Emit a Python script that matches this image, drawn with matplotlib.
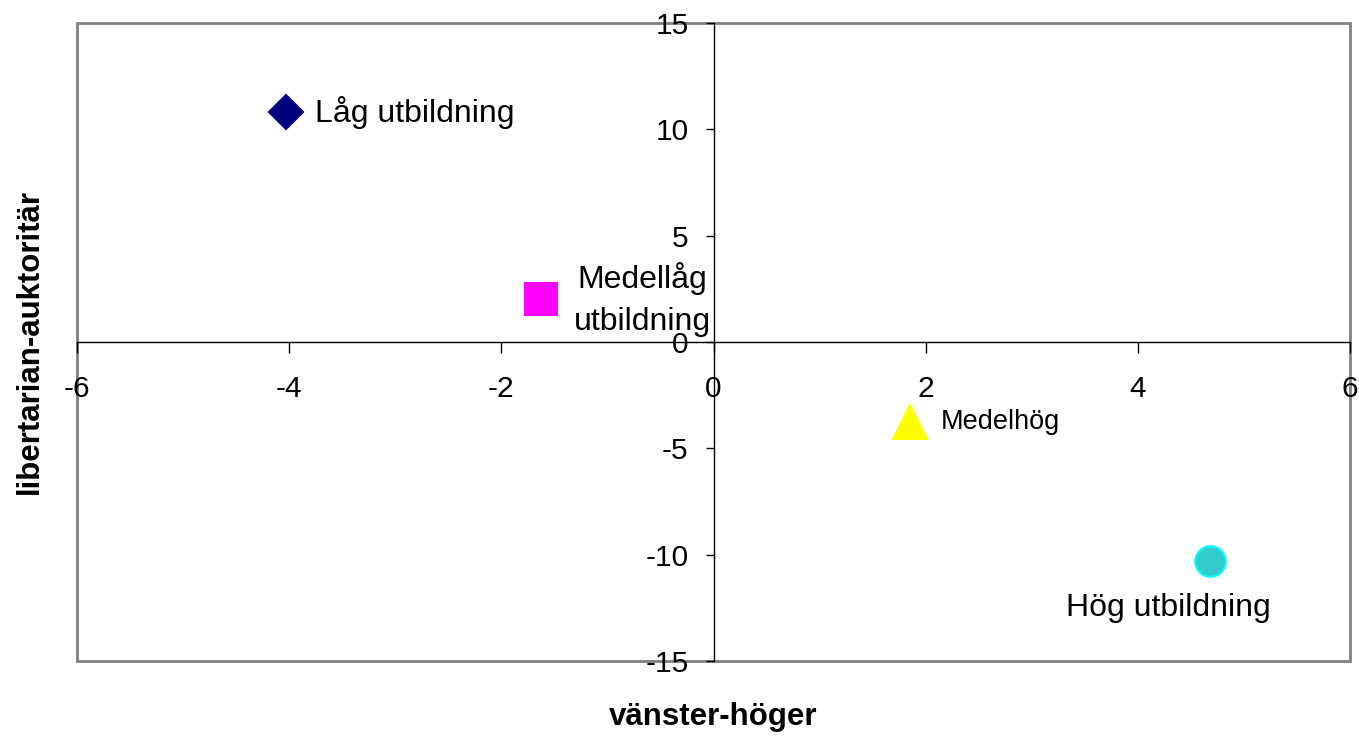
import matplotlib.pyplot as plt
import matplotlib.patches as patches

plt.rcParams['font.family'] = ['Liberation Sans', 'DejaVu Sans']
plt.rcParams['axes.unicode_minus'] = False

# positions on the two value scales
names = ['Låg utbildning', 'Medellåg\nutbildning', 'Medelhög', 'Hög utbildning']
x_vals = [-4.03, -1.63, 1.85, 4.68]
y_vals = [10.8, 2.0, -3.75, -10.3]

markers = ['D', 's', '^', 'o']
face_colors = ['#000080', '#FF00FF', '#FFFF00', '#33CCCC']
edge_colors = ['#000080', '#FF00FF', '#FFFF00', '#00FFFF']
marker_sizes = [17, 23, 24, 22]

# label offsets in points and styling
label_offsets = [(21, 0), (73, 0), (22, 0), (-30, -34)]
label_ha = ['left', 'center', 'left', 'center']
label_sizes = [23, 23, 19.5, 23]

x_ticks = [-6, -4, -2, 0, 2, 4, 6]
y_ticks = [-15, -10, -5, 0, 5, 10, 15]

fig = plt.figure(figsize=(13.59, 7.36), dpi=100)
ax = fig.add_axes([77 / 1359, 75 / 736, 1273 / 1359, 638 / 736])

for x, y, m, fc, ec, ms in zip(x_vals, y_vals, markers, face_colors, edge_colors, marker_sizes):
    ax.plot(x, y, marker=m, markersize=ms, markerfacecolor=fc,
            markeredgecolor=ec, markeredgewidth=1.5, linestyle='none', zorder=3)

for name, x, y, off, ha, fs in zip(names, x_vals, y_vals, label_offsets, label_ha, label_sizes):
    ax.annotate(name, (x, y), xytext=off, textcoords='offset points',
                ha=ha, va='center', fontsize=fs, multialignment='center',
                linespacing=1.5, zorder=4)

ax.set_xlim(-6, 6)
ax.set_ylim(-15, 15)
ax.set_xticks(x_ticks)
ax.set_yticks(y_ticks)

# axes crossing at zero
ax.spines['left'].set_position(('data', 0))
ax.spines['bottom'].set_position(('data', 0))
ax.spines['right'].set_visible(False)
ax.spines['top'].set_visible(False)
for s in ['left', 'bottom']:
    ax.spines[s].set_linewidth(1.0)
    ax.spines[s].set_color('black')

ax.tick_params(axis='x', direction='out', length=8, width=1, pad=16, labelsize=21.5)
ax.tick_params(axis='y', direction='out', length=6, width=1, pad=12, labelsize=21.5)

# grey outer frame
frame = patches.Rectangle((0, 0), 1, 1, transform=ax.transAxes, fill=False,
                          edgecolor='#808080', linewidth=2, clip_on=False, zorder=0)
ax.add_patch(frame)

fig.text(713 / 1359, 1 - 717 / 736, 'vänster-höger', ha='center', va='center',
         fontsize=22.5, fontweight='bold')
fig.text(30 / 1359, 1 - 342 / 736, 'libertarian-auktoritär', ha='center', va='center',
         fontsize=22.5, fontweight='bold', rotation=90)

plt.savefig('out.png', dpi=100)
